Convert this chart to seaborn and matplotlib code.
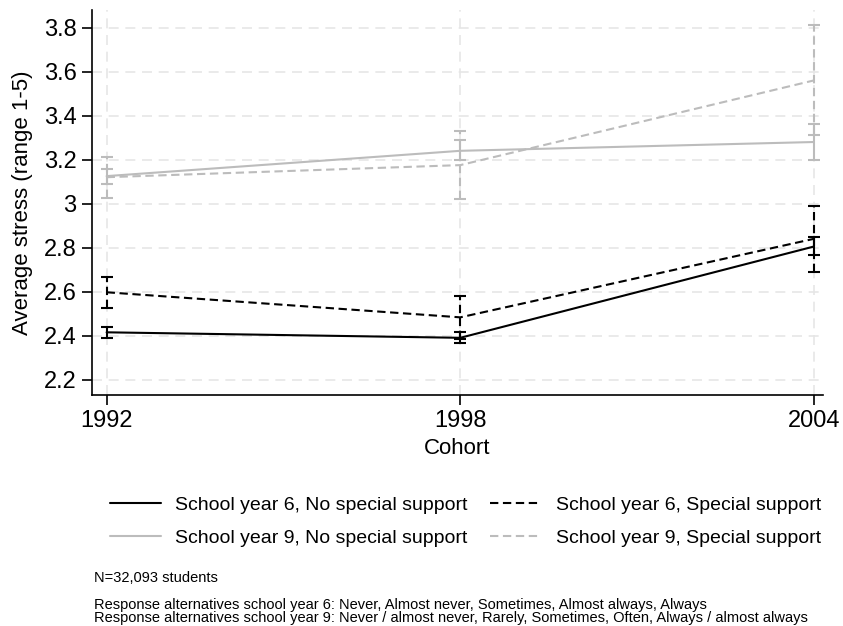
import pandas as pd
import matplotlib
matplotlib.use("Agg")
import matplotlib.pyplot as plt
import seaborn as sns

cohorts = [1992, 1998, 2004]
series = [
    "School year 6, No special support",
    "School year 6, Special support",
    "School year 9, No special support",
    "School year 9, Special support",
]
y6_none = [2.415, 2.39, 2.805]
y6_none_lo = [2.39, 2.365, 2.765]
y6_none_hi = [2.44, 2.415, 2.847]
y6_spec = [2.597, 2.483, 2.84]
y6_spec_lo = [2.526, 2.385, 2.69]
y6_spec_hi = [2.668, 2.58, 2.988]
y9_none = [3.125, 3.24, 3.28]
y9_none_lo = [3.09, 3.197, 3.197]
y9_none_hi = [3.157, 3.29, 3.36]
y9_spec = [3.12, 3.175, 3.56]
y9_spec_lo = [3.025, 3.02, 3.31]
y9_spec_hi = [3.21, 3.33, 3.81]

means = [y6_none, y6_spec, y9_none, y9_spec]
lows = [y6_none_lo, y6_spec_lo, y9_none_lo, y9_spec_lo]
highs = [y6_none_hi, y6_spec_hi, y9_none_hi, y9_spec_hi]

gray = "#bcbcbc"
colors = {series[0]: "black", series[1]: "black", series[2]: gray, series[3]: gray}
dashes = {series[0]: "", series[1]: (4, 2.2), series[2]: "", series[3]: (4, 2.2)}

rows = []
for name, m, lo, hi in zip(series, means, lows, highs):
    for c, v, l, h in zip(cohorts, m, lo, hi):
        rows.append({"cohort": c, "stress": v, "lo": l, "hi": h, "series": name})
df = pd.DataFrame(rows)

sns.set_theme(style="white")
plt.rcParams["font.family"] = ["Liberation Sans", "DejaVu Sans"]
plt.rcParams["text.color"] = "black"
plt.rcParams["axes.labelcolor"] = "black"
plt.rcParams["xtick.color"] = "black"
plt.rcParams["ytick.color"] = "black"

fig = plt.figure(figsize=(8.43, 6.26), dpi=100)
ax = fig.add_axes([0.109, 0.369, 0.867, 0.615])

# confidence intervals first, so the lines sit on top
for name in series:
    d = df[df["series"] == name]
    eb = ax.errorbar(d["cohort"], d["stress"],
                     yerr=[d["stress"] - d["lo"], d["hi"] - d["stress"]],
                     fmt="none", ecolor=colors[name], elinewidth=1.5,
                     capsize=4, capthick=1.5, zorder=2)
    if dashes[name]:
        eb[2][0].set_linestyle((0, dashes[name]))

sns.lineplot(data=df, x="cohort", y="stress", hue="series", style="series",
             palette=colors, dashes=dashes, hue_order=series, style_order=series,
             linewidth=1.5, ax=ax, legend=False, zorder=3)

ax.set_xlim(1991.75, 2004.15)
ax.set_ylim(2.13, 3.88)
ax.set_xticks(cohorts)
ax.set_yticks([2.2, 2.4, 2.6, 2.8, 3.0, 3.2, 3.4, 3.6, 3.8])
ax.set_yticklabels(["2.2", "2.4", "2.6", "2.8", "3", "3.2", "3.4", "3.6", "3.8"])
ax.grid(True, color="#e6e6e6", linestyle=(0, (6, 4)), linewidth=1.2)
ax.set_axisbelow(True)
for s in ["top", "right"]:
    ax.spines[s].set_visible(False)
for s in ["left", "bottom"]:
    ax.spines[s].set_color("black")
    ax.spines[s].set_linewidth(1.2)
ax.tick_params(axis="both", direction="out", length=7, width=1.2, color="black",
               labelsize=17, labelcolor="black", left=True, bottom=True, pad=4)
ax.set_xlabel("Cohort", fontsize=16, labelpad=4)
ax.set_ylabel("Average stress (range 1-5)", fontsize=16, labelpad=8)

handles = {}
for name in series:
    ls = (0, dashes[name]) if dashes[name] else "-"
    h, = ax.plot([], [], color=colors[name], linestyle=ls, linewidth=1.5, label=name)
    handles[name] = h
# legend fills column-wise, so order it to read row by row
order = [series[0], series[2], series[1], series[3]]
fig.legend(handles=[handles[n] for n in order], labels=order, ncol=2, loc="center",
           bbox_to_anchor=(0.552, 0.167), frameon=False, fontsize=14,
           handlelength=2.62, handletextpad=0.77, columnspacing=1.13,
           labelspacing=0.8)

note_font = ["Liberation Sans Narrow", "Liberation Sans", "DejaVu Sans"]
fig.text(0.111, 0.076, "N=32,093 students", fontsize=10.5, family=note_font,
         ha="left", va="center")
fig.text(0.111, 0.033, "Response alternatives school year 6: Never, Almost never, Sometimes, Almost always, Always",
         fontsize=10.5, family=note_font, ha="left", va="center")
fig.text(0.111, 0.012, "Response alternatives school year 9: Never / almost never, Rarely, Sometimes, Often, Always / almost always",
         fontsize=10.5, family=note_font, ha="left", va="center")

fig.savefig("out.png", dpi=100)
